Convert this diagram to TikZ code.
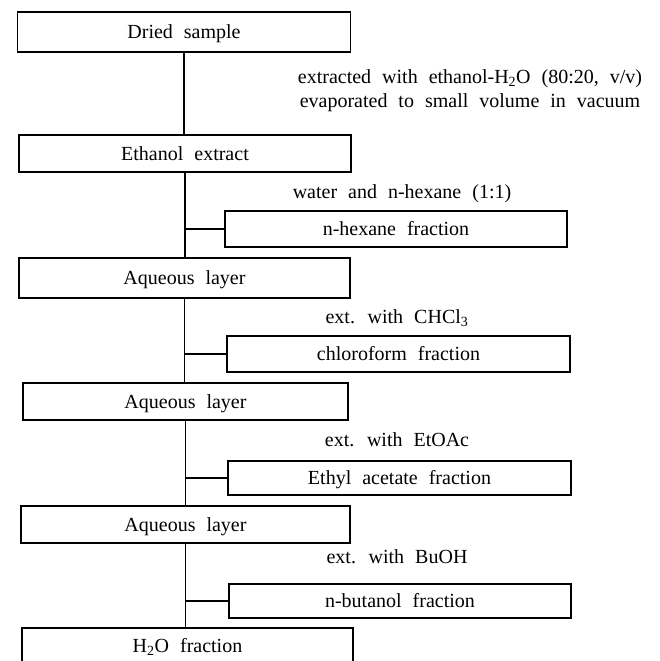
\documentclass[tikz,border=0pt]{standalone}
\usepackage{fontspec}
\setmainfont{Liberation Serif}[WordSpace=2.2]
\begin{document}
\begin{tikzpicture}[x=1pt,y=-1pt,
  font=\fontsize{20}{24}\selectfont,
  every node/.style={inner sep=0pt, outer sep=0pt},
  mainbox/.style={draw, line width=1.1pt, rectangle, text height=13pt, text depth=0pt},
  lbl/.style={text height=13pt, text depth=0pt},
  link/.style={line width=1.1pt}]
\useasboundingbox (0,0) rectangle (659,661);
\clip (0,0) rectangle (659,661);

% main column
\node[mainbox, minimum width=333pt, minimum height=40pt] (dried)   at (184,32)    {Dried sample};
\node[mainbox, minimum width=332pt, minimum height=37pt] (ethanol) at (185,153.5) {Ethanol extract};
\node[mainbox, minimum width=331pt, minimum height=40pt] (aq1)     at (184.5,278) {Aqueous layer};
\node[mainbox, minimum width=325pt, minimum height=37pt] (aq2)     at (185.5,401.5) {Aqueous layer};
\node[mainbox, minimum width=329pt, minimum height=37pt] (aq3)     at (185.5,524.5) {Aqueous layer};
\node[mainbox, minimum width=331pt, minimum height=36pt] (h2o)     at (187.5,646) {H\textsubscript{2}O fraction};

% fractions
\node[mainbox, minimum width=342pt, minimum height=36pt] (hexane)  at (396,229)   {n-hexane fraction};
\node[mainbox, minimum width=343pt, minimum height=36pt] (chloro)  at (398.5,354) {chloroform fraction};
\node[mainbox, minimum width=343pt, minimum height=34pt] (ethyl)   at (399.5,478) {Ethyl acetate fraction};
\node[mainbox, minimum width=342pt, minimum height=34pt] (butanol) at (400,601)   {n-butanol fraction};

% labels
\node[lbl] (l1) at (470,76.5)  {extracted with ethanol-H\textsubscript{2}O (80:20, v/v)};
\node[lbl] (l2) at (470,100.5) {evaporated to small volume in vacuum};
\node[lbl] (l3) at (402,192) {water and n-hexane (1:1)};
\node[lbl] (l4) at (397,317) {ext. with CHCl\textsubscript{3}};
\node[lbl] (l5) at (397,440) {ext. with EtOAc};
\node[lbl] (l6) at (397,557) {ext. with BuOH};

% spine
\draw[link] (dried.south)   -- (dried.south |- ethanol.north);
\draw[link] (ethanol.south) -- (ethanol.south |- aq1.north);
\draw[link] (aq1.south)     -- (aq1.south |- aq2.north);
\draw[link] (aq2.south)     -- (aq2.south |- aq3.north);
\draw[link] (aq3.south)     -- (aq3.south |- h2o.north);

% branches
\draw[link] (hexane.west)  -- (hexane.west -| ethanol.south);
\draw[link] (chloro.west)  -- (chloro.west -| aq1.south);
\draw[link] (ethyl.west)   -- (ethyl.west -| aq2.south);
\draw[link] (butanol.west) -- (butanol.west -| aq3.south);
\end{tikzpicture}
\end{document}
